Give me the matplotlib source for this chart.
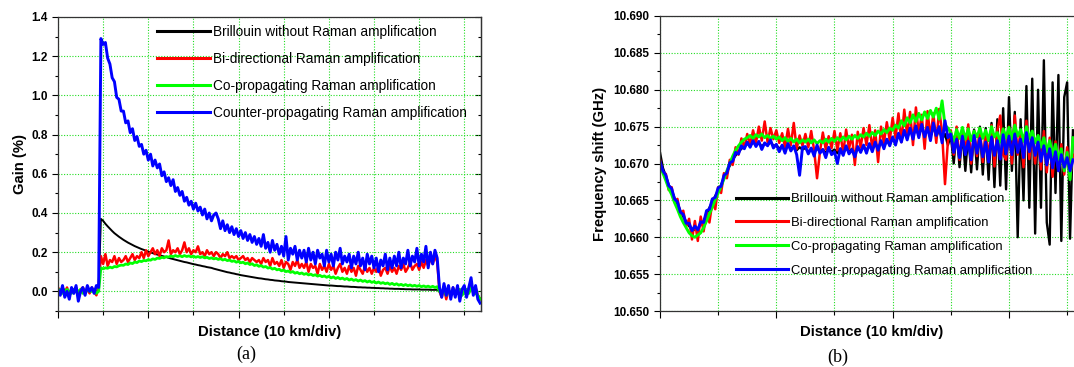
import matplotlib.pyplot as plt
import numpy as np
from matplotlib.ticker import MultipleLocator, FormatStrFormatter

plt.rcParams['font.family'] = ['Liberation Sans', 'DejaVu Sans']

labels = ['Brillouin without Raman amplification',
          'Bi-directional Raman amplification',
          'Co-propagating Raman amplification',
          'Counter-propagating Raman amplification']
colors = ['#000000', '#ff0000', '#00ff00', '#0000ff']

# ---- (a) gain, one sample every 0.5 km ----
dist_a = np.arange(188) * 0.5

gain_brillouin = [
    0.0, 0.005, -0.005, 0.01, -0.01, 0.0, 0.005, -0.01, 0.01, 0.0,
    -0.005, 0.01, -0.01, 0.005, 0.0, 0.01, -0.005, 0.0, 0.01,
    0.37, 0.36, 0.345, 0.332, 0.32, 0.308, 0.297, 0.288, 0.279, 0.271,
    0.263, 0.256, 0.249, 0.243, 0.237, 0.231, 0.226, 0.221, 0.216, 0.212,
    0.207, 0.203, 0.199, 0.195, 0.191, 0.188, 0.184, 0.181, 0.178, 0.175,
    0.171, 0.168, 0.165, 0.162, 0.159, 0.156, 0.153, 0.15, 0.148, 0.145,
    0.142, 0.139, 0.137, 0.134, 0.132, 0.129, 0.127, 0.124, 0.122, 0.12,
    0.116, 0.113, 0.11, 0.107, 0.104, 0.101, 0.098, 0.096, 0.093, 0.091,
    0.088, 0.086, 0.083, 0.081, 0.079, 0.077, 0.075, 0.073, 0.071, 0.069,
    0.067, 0.066, 0.064, 0.062, 0.061, 0.059, 0.058, 0.056, 0.055, 0.054,
    0.052, 0.051, 0.05, 0.048, 0.047, 0.046, 0.045, 0.044, 0.043, 0.042,
    0.041, 0.04, 0.039, 0.038, 0.037, 0.036, 0.035, 0.034, 0.033, 0.032,
    0.031, 0.03, 0.03, 0.029, 0.028, 0.027, 0.027, 0.026, 0.025, 0.025,
    0.024, 0.023, 0.023, 0.022, 0.021, 0.021, 0.02, 0.02, 0.019, 0.019,
    0.018, 0.018, 0.017, 0.017, 0.016, 0.016, 0.015, 0.015, 0.014, 0.014,
    0.013, 0.013, 0.013, 0.012, 0.012, 0.011, 0.011, 0.011, 0.01, 0.01,
    0.01, 0.01, 0.009, 0.009, 0.009, 0.009, 0.008, 0.008, 0.008, 0.008,
    0.0, -0.02, 0.01, -0.01, 0.0, -0.02, 0.01, 0.0, -0.01, 0.01,
    -0.02, 0.0, 0.01, -0.01, 0.02, 0.0, -0.01, -0.02, -0.04]

gain_bidir = [
    0.02, 0.0, 0.01, -0.01, 0.02, -0.02, 0.01, 0.0, 0.02, -0.01,
    0.01, 0.02, 0.0, 0.01, -0.01, 0.02, 0.0, -0.02, 0.03,
    0.18, 0.14, 0.19, 0.13, 0.16, 0.15, 0.18, 0.14, 0.17, 0.15,
    0.16, 0.18, 0.15, 0.17, 0.19, 0.16, 0.18, 0.17, 0.20, 0.17,
    0.21, 0.18, 0.20, 0.22, 0.19, 0.21, 0.18, 0.22, 0.20, 0.21,
    0.26, 0.19, 0.21, 0.20, 0.22, 0.19, 0.21, 0.25, 0.20, 0.22,
    0.19, 0.21, 0.20, 0.23, 0.19, 0.20, 0.18, 0.21, 0.19, 0.20,
    0.18, 0.20, 0.19, 0.17, 0.19, 0.18, 0.20, 0.17, 0.18, 0.17,
    0.18, 0.16, 0.17, 0.18, 0.16, 0.17, 0.15, 0.17, 0.16, 0.15,
    0.16, 0.14, 0.17, 0.15, 0.16, 0.13, 0.17, 0.14, 0.15, 0.13,
    0.16, 0.12, 0.15, 0.14, 0.11, 0.15, 0.13, 0.16, 0.12, 0.14,
    0.12, 0.15, 0.10, 0.14, 0.12, 0.13, 0.09, 0.14, 0.11, 0.13,
    0.10, 0.14, 0.11, 0.13, 0.09, 0.12, 0.14, 0.10, 0.12, 0.09,
    0.13, 0.10, 0.12, 0.08, 0.13, 0.11, 0.09, 0.13, 0.10, 0.12,
    0.09, 0.12, 0.10, 0.13, 0.08, 0.11, 0.12, 0.09, 0.13, 0.10,
    0.12, 0.09, 0.13, 0.11, 0.14, 0.10, 0.12, 0.15, 0.11, 0.13,
    0.14, 0.11, 0.15, 0.12, 0.16, 0.13, 0.17, 0.14, 0.18, 0.15,
    0.0, -0.03, 0.02, -0.04, 0.01, -0.02, 0.02, -0.01, 0.02, -0.03,
    0.01, 0.02, -0.02, 0.01, 0.03, -0.01, 0.02, -0.02, -0.04]

gain_co = [
    0.0, 0.01, -0.01, 0.0, 0.01, 0.0, -0.01, 0.01, 0.0, 0.0,
    0.01, -0.01, 0.0, 0.01, 0.0, 0.0, 0.01, -0.01, 0.0,
    0.12, 0.115, 0.12, 0.118, 0.124, 0.12, 0.127, 0.125, 0.131, 0.134,
    0.133, 0.14, 0.137, 0.145, 0.142, 0.15, 0.147, 0.155, 0.152, 0.158,
    0.156, 0.162, 0.159, 0.166, 0.163, 0.17, 0.168, 0.174, 0.171, 0.178,
    0.175, 0.181, 0.177, 0.183, 0.178, 0.182, 0.177, 0.183, 0.178, 0.181,
    0.176, 0.18, 0.174, 0.178, 0.173, 0.177, 0.171, 0.174, 0.168, 0.171,
    0.166, 0.169, 0.163, 0.167, 0.16, 0.164, 0.157, 0.16, 0.153, 0.156,
    0.149, 0.153, 0.146, 0.149, 0.141, 0.145, 0.137, 0.141, 0.132, 0.136,
    0.128, 0.132, 0.124, 0.127, 0.119, 0.122, 0.114, 0.118, 0.11, 0.113,
    0.105, 0.109, 0.101, 0.104, 0.097, 0.101, 0.093, 0.097, 0.09, 0.094,
    0.087, 0.091, 0.084, 0.088, 0.081, 0.085, 0.078, 0.082, 0.075, 0.079,
    0.072, 0.077, 0.069, 0.074, 0.066, 0.071, 0.064, 0.068, 0.061, 0.066,
    0.058, 0.063, 0.056, 0.06, 0.053, 0.058, 0.051, 0.055, 0.048, 0.053,
    0.046, 0.05, 0.043, 0.048, 0.041, 0.045, 0.039, 0.043, 0.036, 0.041,
    0.034, 0.039, 0.032, 0.036, 0.03, 0.035, 0.029, 0.033, 0.027, 0.031,
    0.026, 0.03, 0.024, 0.028, 0.023, 0.027, 0.021, 0.026, 0.02, 0.024,
    0.0, -0.01, 0.01, -0.02, 0.0, -0.01, 0.01, 0.0, -0.01, 0.01,
    -0.02, 0.0, 0.01, -0.01, 0.02, 0.0, -0.01, -0.02, -0.04]

gain_counter = [
    0.01, -0.02, 0.03, -0.03, 0.0, -0.04, 0.02, -0.01, 0.03, -0.05,
    0.0, 0.02, -0.02, 0.03, 0.0, 0.02, -0.01, 0.03, 0.02,
    1.29, 1.26, 1.27, 1.19, 1.16, 1.09, 1.07, 0.99, 0.98, 0.92,
    0.92, 0.86, 0.87, 0.81, 0.83, 0.77, 0.79, 0.74, 0.75, 0.70,
    0.72, 0.67, 0.70, 0.64, 0.67, 0.63, 0.65, 0.59, 0.61, 0.56,
    0.58, 0.54, 0.57, 0.51, 0.53, 0.49, 0.51, 0.46, 0.48, 0.44,
    0.46, 0.42, 0.45, 0.41, 0.43, 0.39, 0.42, 0.37, 0.40, 0.36,
    0.39, 0.40, 0.37, 0.32, 0.36, 0.31, 0.34, 0.30, 0.33, 0.29,
    0.32, 0.28, 0.31, 0.27, 0.30, 0.26, 0.29, 0.25, 0.28, 0.24,
    0.27, 0.23, 0.29, 0.22, 0.25, 0.20, 0.26, 0.21, 0.24, 0.19,
    0.23, 0.18, 0.28, 0.16, 0.22, 0.19, 0.23, 0.16, 0.21, 0.17,
    0.21, 0.15, 0.22, 0.16, 0.20, 0.14, 0.21, 0.17, 0.19, 0.13,
    0.21, 0.15, 0.19, 0.13, 0.20, 0.16, 0.22, 0.14, 0.18, 0.15,
    0.19, 0.12, 0.18, 0.14, 0.20, 0.13, 0.17, 0.11, 0.19, 0.14,
    0.18, 0.12, 0.17, 0.10, 0.16, 0.13, 0.19, 0.11, 0.17, 0.12,
    0.18, 0.13, 0.20, 0.12, 0.17, 0.14, 0.21, 0.13, 0.18, 0.15,
    0.22, 0.13, 0.19, 0.15, 0.23, 0.12, 0.20, 0.14, 0.21, 0.17,
    0.02, -0.03, 0.04, -0.02, 0.03, -0.04, 0.02, -0.03, 0.03, -0.05,
    0.01, 0.03, -0.03, 0.02, 0.07, -0.02, 0.03, -0.04, -0.06]

# ---- (b) Brillouin frequency shift (GHz), one sample every 0.5 km ----
dist_b = np.arange(143) * 0.5

shift_brillouin = [
    10.6715, 10.6694, 10.6683, 10.6671, 10.6663, 10.6653, 10.6645, 10.6636, 10.6628, 10.6621,
    10.6615, 10.6611, 10.6610, 10.6612, 10.6617, 10.6622, 10.6631, 10.6640, 10.6648, 10.6656,
    10.6663, 10.6671, 10.6680, 10.6689, 10.6697, 10.6705, 10.6711, 10.6716, 10.6720, 10.6723,
    10.6727, 10.6724, 10.6729, 10.6725, 10.6728, 10.6723, 10.6727, 10.6725, 10.6729, 10.6724,
    10.6725, 10.6720, 10.6724, 10.6719, 10.6725, 10.6720, 10.6723, 10.6718, 10.6722, 10.6719,
    10.6721, 10.6716, 10.6720, 10.6715, 10.6721, 10.6716, 10.6719, 10.6714, 10.6720, 10.6716,
    10.6719, 10.6714, 10.6720, 10.6715, 10.6721, 10.6716, 10.6720, 10.6714, 10.6721, 10.6717,
    10.6723, 10.6718, 10.6725, 10.6720, 10.6727, 10.6721, 10.6729, 10.6723, 10.6731, 10.6726,
    10.6734, 10.6728, 10.6739, 10.6732, 10.6743, 10.6735, 10.6746, 10.6737, 10.6748, 10.6738,
    10.6749, 10.6738, 10.6750, 10.6736, 10.6751, 10.6735, 10.6748, 10.6733, 10.6740, 10.6725,
    10.6738, 10.6700, 10.6745, 10.6695, 10.6742, 10.6690, 10.6740, 10.6688, 10.6746, 10.6692,
    10.6750, 10.6685, 10.6748, 10.6678, 10.6755, 10.6668, 10.6760, 10.6670, 10.6775, 10.6665,
    10.6790, 10.6690, 10.6770, 10.6600, 10.6760, 10.6650, 10.6805, 10.6640, 10.6815, 10.6605,
    10.6800, 10.6640, 10.6840, 10.6620, 10.6590, 10.6810, 10.6660, 10.6820, 10.6595, 10.6790,
    10.6810, 10.6598, 10.6745]

shift_bidir = [
    10.6705, 10.6688, 10.6686, 10.6664, 10.6668, 10.6648, 10.6652, 10.6630, 10.6636, 10.6615,
    10.6625, 10.6597, 10.6622, 10.6595, 10.6628, 10.6608, 10.6634, 10.6620, 10.6648, 10.6638,
    10.6668, 10.6660, 10.6687, 10.6680, 10.6705, 10.6698, 10.6722, 10.6712, 10.6734, 10.6722,
    10.6740, 10.6725, 10.6745, 10.6728, 10.6750, 10.6731, 10.6757, 10.6729, 10.6748, 10.6733,
    10.6745, 10.6728, 10.6741, 10.6722, 10.6747, 10.6725, 10.6755, 10.6720, 10.6738, 10.6724,
    10.6740, 10.6722, 10.6744, 10.6718, 10.6680, 10.6716, 10.6742, 10.6719, 10.6737, 10.6721,
    10.6744, 10.6718, 10.6741, 10.6714, 10.6746, 10.6720, 10.6739, 10.6698, 10.6743, 10.6722,
    10.6748, 10.6725, 10.6752, 10.6720, 10.6745, 10.6702, 10.6750, 10.6728, 10.6756, 10.6731,
    10.6762, 10.6735, 10.6768, 10.6729, 10.6773, 10.6738, 10.6770, 10.6725, 10.6776, 10.6740,
    10.6766, 10.6720, 10.6771, 10.6735, 10.6768, 10.6728, 10.6774, 10.6742, 10.6672, 10.6730,
    10.6745, 10.6712, 10.6750, 10.6705, 10.6742, 10.6716, 10.6753, 10.6700, 10.6744, 10.6710,
    10.6748, 10.6702, 10.6740, 10.6708, 10.6752, 10.6696, 10.6745, 10.6765, 10.6712, 10.6705,
    10.6750, 10.6700, 10.6765, 10.6712, 10.6745, 10.6695, 10.6758, 10.6706, 10.6741, 10.6700,
    10.6738, 10.6692, 10.6744, 10.6688, 10.6735, 10.6682, 10.6730, 10.6690, 10.6726, 10.6685,
    10.6722, 10.6680, 10.6712]

shift_co = [
    10.6698, 10.6687, 10.6677, 10.6666, 10.6658, 10.6647, 10.6638, 10.6628, 10.6620, 10.6613,
    10.6606, 10.6602, 10.6600, 10.6603, 10.6606, 10.6613, 10.6622, 10.6632, 10.6641, 10.6651,
    10.6660, 10.6669, 10.6679, 10.6690, 10.6700, 10.6710, 10.6718, 10.6724, 10.6729, 10.6733,
    10.6735, 10.6738, 10.6734, 10.6739, 10.6736, 10.6740, 10.6735, 10.6738, 10.6734, 10.6737,
    10.6733, 10.6736, 10.6731, 10.6735, 10.6730, 10.6734, 10.6729, 10.6733, 10.6728, 10.6732,
    10.6729, 10.6733, 10.6728, 10.6732, 10.6727, 10.6731, 10.6728, 10.6733, 10.6729, 10.6734,
    10.6730, 10.6735, 10.6731, 10.6736, 10.6732, 10.6737, 10.6733, 10.6738, 10.6734, 10.6739,
    10.6736, 10.6741, 10.6737, 10.6742, 10.6738, 10.6744, 10.6740, 10.6746, 10.6742, 10.6748,
    10.6745, 10.6752, 10.6748, 10.6758, 10.6751, 10.6762, 10.6755, 10.6766, 10.6757, 10.6768,
    10.6759, 10.6770, 10.6761, 10.6772, 10.6763, 10.6775, 10.6760, 10.6785, 10.6752, 10.6748,
    10.6742, 10.6730, 10.6746, 10.6734, 10.6749, 10.6733, 10.6747, 10.6731, 10.6744, 10.6736,
    10.6748, 10.6734, 10.6745, 10.6731, 10.6750, 10.6736, 10.6742, 10.6729, 10.6747, 10.6735,
    10.6749, 10.6733, 10.6752, 10.6737, 10.6746, 10.6730, 10.6750, 10.6734, 10.6744, 10.6728,
    10.6738, 10.6722, 10.6735, 10.6716, 10.6731, 10.6711, 10.6726, 10.6705, 10.6720, 10.6690,
    10.6715, 10.6678, 10.6735]

shift_counter = [
    10.6703, 10.6690, 10.6684, 10.6670, 10.6666, 10.6652, 10.6648, 10.6634, 10.6631, 10.6619,
    10.6619, 10.6609, 10.6615, 10.6610, 10.6621, 10.6620, 10.6636, 10.6638, 10.6652, 10.6654,
    10.6667, 10.6669, 10.6684, 10.6687, 10.6701, 10.6703, 10.6715, 10.6713, 10.6724, 10.6720,
    10.6729, 10.6722, 10.6731, 10.6723, 10.6730, 10.6719, 10.6728, 10.6724, 10.6732, 10.6721,
    10.6726, 10.6716, 10.6725, 10.6714, 10.6727, 10.6717, 10.6724, 10.6712, 10.6684, 10.6722,
    10.6723, 10.6713, 10.6721, 10.6710, 10.6725, 10.6714, 10.6719, 10.6708, 10.6722, 10.6712,
    10.6716, 10.6700, 10.6720, 10.6711, 10.6724, 10.6713, 10.6719, 10.6709, 10.6723, 10.6715,
    10.6725, 10.6714, 10.6727, 10.6716, 10.6729, 10.6718, 10.6731, 10.6720, 10.6733, 10.6724,
    10.6736, 10.6725, 10.6741, 10.6729, 10.6745, 10.6732, 10.6748, 10.6733, 10.6751, 10.6735,
    10.6753, 10.6736, 10.6749, 10.6731, 10.6755, 10.6738, 10.6750, 10.6728, 10.6758, 10.6735,
    10.6740, 10.6715, 10.6733, 10.6708, 10.6737, 10.6712, 10.6730, 10.6705, 10.6738, 10.6714,
    10.6734, 10.6709, 10.6729, 10.6702, 10.6736, 10.6711, 10.6731, 10.6706, 10.6739, 10.6713,
    10.6737, 10.6712, 10.6740, 10.6715, 10.6733, 10.6708, 10.6742, 10.6716, 10.6735, 10.6711,
    10.6729, 10.6703, 10.6724, 10.6698, 10.6720, 10.6694, 10.6716, 10.6690, 10.6712, 10.6695,
    10.6708, 10.6690, 10.6705]

fig = plt.figure(figsize=(10.74, 3.67), dpi=100)
W, H = 1074.0, 367.0

grid_kw = dict(color='#22dd22', linestyle=(0, (1, 1.5)), linewidth=0.8)


def style_axes(ax):
    ax.xaxis.set_major_locator(MultipleLocator(20))
    ax.xaxis.set_minor_locator(MultipleLocator(10))
    ax.tick_params(axis='x', which='both', direction='out', labelbottom=False)
    ax.tick_params(axis='x', which='major', length=5, width=0.8)
    ax.tick_params(axis='x', which='minor', length=3, width=0.8)
    ax.tick_params(axis='y', which='major', direction='out', length=4, width=0.8,
                   labelsize=8.5)
    ax.tick_params(axis='y', which='minor', direction='out', length=2.5, width=0.8)
    for lab in ax.get_yticklabels():
        lab.set_fontweight('bold')
    ax.grid(True, which='both', axis='x', **grid_kw)
    ax.grid(True, which='major', axis='y', **grid_kw)
    ax.set_axisbelow(True)
    for sp in ax.spines.values():
        sp.set_linewidth(0.9)
        sp.set_color('#333333')
    ax.set_xlabel('Distance (10 km/div)', fontsize=10.7, fontweight='bold', labelpad=5)


# ---- panel (a) ----
ax1 = fig.add_axes([58 / W, 1 - 311 / H, 423 / W, 294 / H])
series_a = [gain_brillouin, gain_bidir, gain_co, gain_counter]
widths = [1.4, 1.8, 2.0, 2.1]
for vals, c, lw, lab in zip(series_a, colors, widths, labels):
    ax1.plot(dist_a, vals, color=c, lw=lw, label=lab)
ax1.set_xlim(0, 93.7)
ax1.set_ylim(-0.1, 1.4)
ax1.yaxis.set_major_locator(MultipleLocator(0.2))
ax1.yaxis.set_minor_locator(MultipleLocator(0.1))
ax1.yaxis.set_major_formatter(FormatStrFormatter('%.1f'))
style_axes(ax1)
ax1.set_ylabel('Gain (%)', fontsize=10.7, fontweight='bold', labelpad=3)
# inward ticks on the right-hand frame
sec = ax1.secondary_yaxis('right')
sec.yaxis.set_major_locator(MultipleLocator(0.2))
sec.yaxis.set_minor_locator(MultipleLocator(0.1))
sec.tick_params(which='both', direction='in', labelright=False, width=0.8)
sec.tick_params(which='major', length=4)
sec.tick_params(which='minor', length=2.5)
sec.spines['right'].set_color('#333333')
sec.spines['right'].set_linewidth(0.9)
leg1 = ax1.legend(loc='upper left', bbox_to_anchor=(157 / W, 1 - 25 / H),
                  bbox_transform=fig.transFigure, frameon=False, fontsize=9.8,
                  handlelength=3.9, handletextpad=0.25, labelspacing=0.95,
                  borderpad=0, borderaxespad=0)
for ln in leg1.get_lines():
    ln.set_linewidth(2.2)

# ---- panel (b) ----
ax2 = fig.add_axes([660 / W, 1 - 311 / H, 424 / W, 295 / H])
series_b = [shift_brillouin, shift_bidir, shift_co, shift_counter]
widths_b = [1.7, 1.8, 2.1, 2.1]
for vals, c, lw, lab in zip(series_b, colors, widths_b, labels):
    ax2.plot(dist_b, vals, color=c, lw=lw, label=lab)
ax2.set_xlim(0, 72.9)
ax2.set_ylim(10.650, 10.690)
ax2.yaxis.set_major_locator(MultipleLocator(0.005))
ax2.yaxis.set_minor_locator(MultipleLocator(0.0025))
ax2.yaxis.set_major_formatter(FormatStrFormatter('%.3f'))
style_axes(ax2)
ax2.set_ylabel('Frequency shift (GHz)', fontsize=10.7, fontweight='bold', labelpad=5)
leg2 = ax2.legend(loc='upper left', bbox_to_anchor=(736 / W, 1 - 193 / H),
                  bbox_transform=fig.transFigure, frameon=False, fontsize=9.4,
                  handlelength=4.0, handletextpad=0.25, labelspacing=0.9,
                  borderpad=0, borderaxespad=0)
for ln in leg2.get_lines():
    ln.set_linewidth(2.2)

fig.text(246 / W, 1 - 354 / H, '(a)', family='Liberation Serif', fontsize=13,
         ha='center', va='center')
fig.text(838 / W, 1 - 357 / H, '(b)', family='Liberation Serif', fontsize=13,
         ha='center', va='center')

fig.savefig('out.png', dpi=100)
